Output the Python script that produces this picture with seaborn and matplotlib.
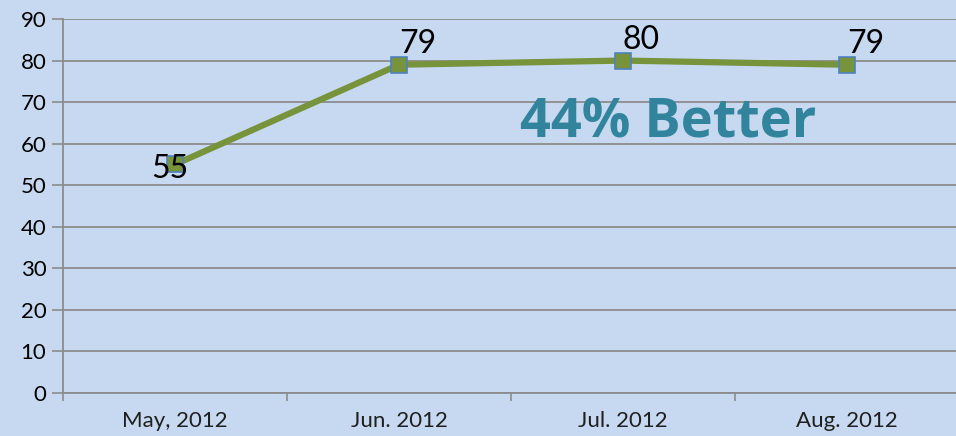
import matplotlib
matplotlib.use("Agg")
import matplotlib.pyplot as plt
import seaborn as sns
import pandas as pd

months = ["May, 2012", "Jun. 2012", "Jul. 2012", "Aug. 2012"]
scores = [55, 79, 80, 79]
yticks = [0, 10, 20, 30, 40, 50, 60, 70, 80, 90]
annotation = "44% Better"

sns.set_theme(style="white")
plt.rcParams['font.family'] = ['Lato', 'DejaVu Sans']

BG = "#C6D9F1"
GRID = "#8C8C8C"
LINE = "#77933C"
EDGE = "#4F81BD"

df = pd.DataFrame({"month": months, "score": scores})
df["x"] = range(len(months))

fig = plt.figure(figsize=(9.56, 4.36), dpi=100, facecolor=BG)
ax = fig.add_axes([63/956, 43/436, 896/956, 374/436])
ax.set_facecolor(BG)

sns.lineplot(data=df, x="x", y="score", ax=ax, color=LINE, linewidth=4.5,
             marker="s", markersize=11, markerfacecolor=LINE,
             markeredgecolor=EDGE, markeredgewidth=1.2, zorder=3)

ax.set_xlim(-0.5, len(months) - 0.5)
ax.set_ylim(0, 90)
ax.set_yticks(yticks)
ax.set_yticklabels([str(v) for v in yticks], fontsize=16, color="black")
ax.yaxis.grid(True, color=GRID, linewidth=1.3)
ax.set_axisbelow(True)

# category boundaries as ticks, labels at centres
ax.set_xticks([i - 0.5 for i in range(len(months) + 1)])
ax.set_xticklabels([""] * (len(months) + 1))
ax.set_xticks(list(range(len(months))), minor=True)
ax.set_xticklabels(months, minor=True, fontsize=16, color="#1F1F1F")
ax.tick_params(axis="x", which="major", direction="out", length=6, color=GRID, width=1.2, bottom=True)
ax.tick_params(axis="x", which="minor", length=0, pad=13, bottom=True)
ax.tick_params(axis="y", direction="out", length=8, color=GRID, width=1.2, left=True, pad=4)

for s in ["top", "right"]:
    ax.spines[s].set_visible(False)
for s in ["left", "bottom"]:
    ax.spines[s].set_color(GRID)
    ax.spines[s].set_linewidth(1.3)

ax.set_xlabel("")
ax.set_ylabel("")

# data labels
for i, v in enumerate(scores):
    if i == 0:
        ax.annotate(str(v), (i, v), xytext=(-4, -3), textcoords="offset points",
                    ha="center", va="center", fontsize=23, color="black", zorder=4)
    else:
        ax.annotate(str(v), (i, v), xytext=(0, 4), textcoords="offset points",
                    ha="left", va="bottom", fontsize=23, color="black", zorder=4)

ax.text(1.54, 61.5, annotation, fontsize=39, fontweight="bold", color="#31849B",
        family=["Open Sans", "DejaVu Sans"], ha="left", va="baseline", zorder=4)

fig.savefig("out.png", dpi=100, facecolor=BG)
